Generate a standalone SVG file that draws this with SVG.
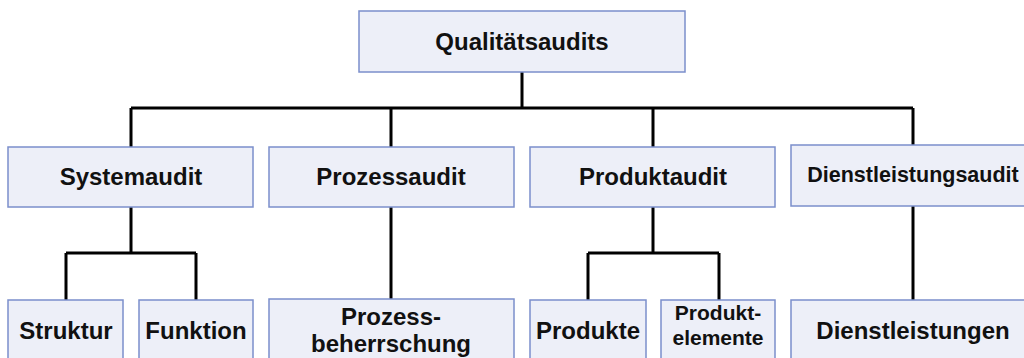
<svg xmlns="http://www.w3.org/2000/svg" width="1024" height="358" viewBox="0 0 1024 358">
<style>
.box{fill:#EDEFF8;stroke:#7B8FCB;stroke-width:1.5}
.t{font-family:"Liberation Sans",Arial,sans-serif;font-weight:bold;font-size:24px;fill:#111;text-anchor:middle}
.s{font-size:21.5px}
.p{font-size:21px}
.c{stroke:#000;stroke-width:3;fill:none}
</style>
<rect width="1024" height="358" fill="#fff"/>
<g id="connectors" class="c">
<path d="M522 72V108M131 108H913M131 108V147M391 108V147M653 108V147M913 108V145"/>
<path d="M131 207V253M66 253H196M66 253V300M196 253V300"/>
<path d="M391 207V300"/>
<path d="M653 207V253M588 253H719M588 253V300M719 253V300"/>
<path d="M913 206V300"/>
</g>
<g id="qualitaetsaudits"><rect class="box" x="359" y="11" width="326" height="61"/><text class="t" x="522" y="50">Qualitätsaudits</text></g>
<g id="systemaudit"><rect class="box" x="8" y="147" width="245" height="60"/><text class="t" x="131" y="185">Systemaudit</text></g>
<g id="prozessaudit"><rect class="box" x="269" y="147" width="245" height="60"/><text class="t" x="391" y="185">Prozessaudit</text></g>
<g id="produktaudit"><rect class="box" x="530" y="147" width="245" height="60"/><text class="t" x="653" y="185">Produktaudit</text></g>
<g id="dienstleistungsaudit"><rect class="box" x="791" y="145" width="246" height="61"/><text class="t s" x="913" y="182">Dienstleistungsaudit</text></g>
<g id="struktur"><rect class="box" x="8" y="300" width="115" height="70"/><text class="t" x="66" y="339">Struktur</text></g>
<g id="funktion"><rect class="box" x="139" y="300" width="114" height="70"/><text class="t" x="196" y="339">Funktion</text></g>
<g id="prozessbeherrschung"><rect class="box" x="269" y="299" width="245" height="70"/><text class="t" x="391" y="325">Prozess-</text><text class="t" x="391" y="352">beherrschung</text></g>
<g id="produkte"><rect class="box" x="530" y="300" width="116" height="70"/><text class="t" x="588" y="339">Produkte</text></g>
<g id="produktelemente"><rect class="box" x="661" y="300" width="114" height="70"/><text class="t p" x="718" y="320">Produkt-</text><text class="t p" x="718" y="345">elemente</text></g>
<g id="dienstleistungen"><rect class="box" x="791" y="300" width="246" height="70"/><text class="t" x="913" y="339">Dienstleistungen</text></g>
</svg>
